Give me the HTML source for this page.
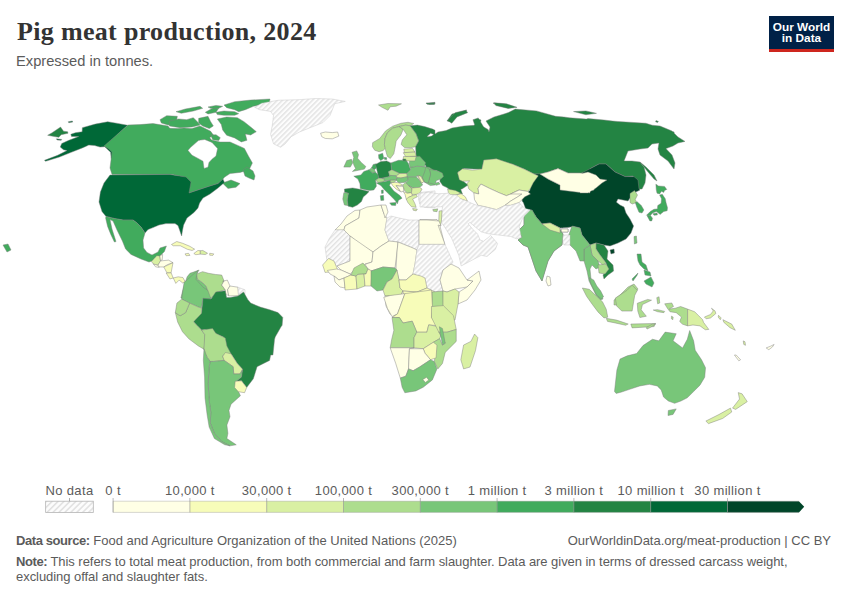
<!DOCTYPE html>
<html><head><meta charset="utf-8">
<style>
html,body{margin:0;padding:0;background:#fff;width:850px;height:600px;overflow:hidden;position:relative;font-family:"Liberation Sans",sans-serif;}
.t{position:absolute;white-space:nowrap;}
#title{left:17px;top:17px;font-family:"Liberation Serif",serif;font-weight:bold;font-size:26px;color:#333;letter-spacing:0.33px;}
#sub{left:16px;top:52.5px;font-size:14.7px;color:#5b5b5b;}
#logo{position:absolute;left:769px;top:16px;width:65px;height:36px;background:#002147;}
#logo .bar{position:absolute;left:0;bottom:0;width:65px;height:3px;background:#ce261e;}
#logo .txt{position:absolute;left:0;top:5.6px;width:65px;text-align:center;color:#fff;font-size:11.8px;line-height:11.6px;font-weight:bold;letter-spacing:0px;}
.foot{font-size:13px;color:#5b5b5b;}
.foot b{color:#5b5b5b;letter-spacing:-0.42px;}
.leg{font-size:13px;color:#5b5b5b;letter-spacing:0.35px;transform:translateX(-50%);}
</style></head><body>
<div id="title" class="t">Pig meat production, 2024</div>
<div id="sub" class="t">Expressed in tonnes.</div>
<div id="logo"><div class="txt">Our World<br>in Data</div><div class="bar"></div></div>

<svg id="map" width="850" height="600" style="position:absolute;left:0;top:0">
<defs>
<pattern id="hatch" patternUnits="userSpaceOnUse" width="3.55" height="3.55" patternTransform="rotate(45)">
<rect width="3.55" height="3.55" fill="#fcfcfc"/><rect width="1.45" height="3.55" fill="#e3e3e3"/>
</pattern>
<pattern id="hatchL" patternUnits="userSpaceOnUse" width="4.2" height="4.2" patternTransform="rotate(45)">
<rect width="4.2" height="4.2" fill="#fcfcfc"/><rect width="1.5" height="4.2" fill="#e0e0e0"/>
</pattern>
</defs>
<g id="mapg" stroke="#7d7d7d" stroke-width="0.45" fill-rule="evenodd" stroke-linejoin="round"><path d="M127.65,125.29 L116.47,123.18 L107.65,121.76 L95.29,124.12 L82.35,127.65 L82.12,131.76 L75.29,132.71 L70.82,134.35 L71.53,136.47 L78.82,136.47 L68.24,140.59 L61.76,143.53 L60.24,147.06 L63.53,149.76 L67.06,150.59 L57.65,155.29 L44.47,160.35 L45.65,161.29 L59.41,157.06 L70.59,152.59 L76.47,150.24 L82.94,147.65 L88.82,145.06 L94.71,145.53 L100.00,147.06 L104.71,146.71 L107.65,149.41 L110.59,152.35 L111.18,158.47 L113.88,158.24 L113.18,150.00 L110.59,147.88 L104.94,146.24Z" fill="#006837"/>
<path d="M68.24,121.76 L72.35,120.94 L72.71,122.12 L68.82,122.71Z" fill="#006837"/>
<path d="M56.47,138.82 L61.76,139.41 L61.18,140.35 L57.06,140.00Z" fill="#006837"/>
<path d="M47.65,135.29 L51.76,132.94 L60.59,127.06 L63.53,131.18 L67.65,131.76 L68.00,133.29 L61.18,134.71 L58.82,137.29 L54.12,136.47Z" fill="#238443"/>
<path d="M104.00,146.00 L104.00,146.00 L108.99,149.00 L109.00,149.00 L109.00,149.00 L111.98,151.98 L111.99,151.99 L111.99,151.99 L111.99,151.99 L111.99,152.00 L112.00,152.00 L112.00,152.01 L112.00,152.01 L112.00,152.02 L112.00,152.02 L110.00,168.00 L110.00,168.00 L110.00,168.00 L112.00,174.40 L112.00,174.40 L112.00,174.40 L171.99,174.40 L172.00,174.40 L172.01,174.40 L183.98,177.00 L183.99,177.00 L183.99,177.00 L184.00,177.00 L184.00,177.00 L184.01,177.01 L184.01,177.01 L188.99,182.39 L188.99,182.39 L188.99,182.39 L188.99,182.40 L189.00,182.40 L189.00,182.41 L189.00,182.41 L189.00,182.41 L189.00,182.42 L189.00,193.00 L189.00,193.00 L189.00,193.00 L210.00,186.00 L210.00,186.00 L218.00,183.60 L218.00,183.60 L218.00,183.60 L223.00,179.00 L223.00,179.00 L223.00,179.00 L224.39,177.21 L224.40,177.20 L224.40,177.20 L224.41,177.20 L229.99,173.61 L229.99,173.60 L230.00,173.60 L230.00,173.60 L230.01,173.60 L230.01,173.60 L240.00,172.40 L240.00,172.40 L249.00,170.00 L249.00,170.00 L249.00,170.00 L252.40,163.00 L252.40,163.00 L252.40,163.00 L248.40,156.00 L248.40,156.00 L244.40,148.40 L244.40,148.40 L244.40,148.40 L240.00,146.40 L240.00,146.40 L230.00,142.00 L230.00,142.00 L230.00,142.00 L220.01,142.00 L220.00,142.00 L219.99,142.00 L211.62,140.00 L211.61,140.00 L211.61,140.00 L211.60,140.00 L211.60,140.00 L211.59,139.99 L211.59,139.99 L209.66,137.82 L209.66,137.82 L209.66,137.81 L209.65,137.81 L209.65,137.80 L209.65,137.80 L209.65,137.79 L209.65,137.79 L209.65,137.78 L209.65,137.78 L209.65,137.78 L209.65,137.77 L209.65,137.77 L209.66,137.76 L209.66,137.76 L209.66,137.75 L209.67,137.75 L209.67,137.75 L213.33,135.00 L213.33,135.00 L213.33,135.00 L210.67,131.27 L210.67,131.27 L210.67,131.27 L200.00,125.93 L200.00,125.93 L200.00,125.93 L192.01,128.60 L192.00,128.60 L192.00,128.60 L191.99,128.60 L190.00,128.60 L190.00,128.60 L184.00,128.00 L184.00,128.00 L184.00,128.00 L177.97,128.53 L177.96,128.53 L169.80,128.37 L169.80,128.37 L169.79,128.37 L169.79,128.37 L169.78,128.36 L169.78,128.36 L169.77,128.36 L169.77,128.36 L169.77,128.35 L169.76,128.35 L168.00,126.00 L168.00,126.00 L168.00,126.00 L153.00,123.60 L153.00,123.60 L153.00,123.60 L140.00,124.60 L140.00,124.60 L128.00,125.00 L128.00,125.00 L128.00,125.00 L104.00,146.00ZM198.34,140.62 L198.34,140.62 L198.35,140.62 L198.35,140.61 L198.35,140.61 L198.36,140.61 L200.53,140.07 L200.54,140.07 L204.67,139.48 L204.68,139.48 L204.68,139.48 L204.69,139.48 L204.69,139.48 L204.70,139.48 L211.99,142.40 L211.99,142.40 L212.00,142.40 L212.00,142.40 L212.01,142.41 L217.58,148.38 L217.59,148.38 L217.59,148.39 L217.59,148.39 L217.59,148.40 L217.59,148.40 L217.59,148.41 L217.60,148.41 L217.60,148.42 L217.60,148.42 L217.59,148.43 L216.00,155.98 L216.00,155.99 L216.00,155.99 L216.00,156.00 L216.00,156.00 L215.99,156.00 L215.99,156.01 L215.99,156.01 L212.00,159.20 L212.00,159.20 L209.00,162.40 L209.00,162.40 L209.00,162.40 L208.01,167.17 L208.00,167.18 L208.00,167.18 L208.00,167.18 L208.00,167.19 L208.00,167.19 L207.99,167.20 L207.99,167.20 L207.98,167.20 L207.98,167.20 L207.98,167.21 L207.97,167.21 L204.06,168.38 L204.05,168.38 L204.05,168.39 L204.04,168.39 L204.04,168.39 L204.03,168.38 L204.03,168.38 L204.02,168.38 L204.02,168.38 L204.01,168.38 L204.01,168.37 L204.01,168.37 L204.00,168.37 L204.00,168.36 L204.00,168.36 L204.00,168.36 L203.99,168.35 L203.99,168.35 L203.99,168.34 L203.00,161.20 L203.00,161.20 L203.00,161.20 L198.00,158.40 L198.00,158.40 L192.01,155.20 L192.00,155.20 L192.00,155.20 L192.00,155.20 L191.99,155.19 L188.03,150.43 L188.02,150.43 L188.02,150.42 L188.02,150.42 L188.02,150.42 L188.02,150.41 L188.02,150.41 L188.02,150.40 L188.02,150.40 L188.02,150.39 L188.02,150.39 L188.02,150.38 L188.02,150.38 L188.02,150.37 L188.03,150.37 L190.66,147.34 L190.67,147.33Z" fill="#41ab5d"/>
<path d="M243.00,170.00 L247.00,167.00 L253.00,171.00 L255.00,176.00 L254.00,180.00 L249.00,178.00 L245.00,176.00Z" fill="#41ab5d"/>
<path d="M222.40,183.00 L231.00,180.00 L240.00,183.60 L236.00,187.20 L228.00,188.40Z" fill="#41ab5d"/>
<path d="M224.00,105.00 L234.67,101.67 L250.67,100.07 L270.00,99.00 L269.33,102.33 L253.33,106.33 L245.33,109.67 L238.67,111.67 L234.67,109.67 L226.67,107.67Z" fill="#41ab5d"/>
<path d="M216.00,112.33 L224.00,111.00 L234.67,111.67 L238.67,113.67 L234.67,115.27 L224.00,115.27 L217.33,114.60Z" fill="#41ab5d"/>
<path d="M176.00,111.67 L185.33,109.00 L200.00,106.33 L202.67,108.33 L193.33,111.00 L181.33,113.27Z" fill="#41ab5d"/>
<path d="M205.33,112.33 L213.33,107.67 L218.67,108.33 L216.00,112.33 L208.00,113.93Z" fill="#41ab5d"/>
<path d="M208.00,107.00 L216.00,105.40 L222.67,106.33 L218.67,108.33 L210.67,108.33Z" fill="#41ab5d"/>
<path d="M160.00,119.67 L166.67,115.67 L177.33,116.33 L176.00,123.67 L168.00,125.00 L161.33,123.00Z" fill="#41ab5d"/>
<path d="M169.33,121.00 L178.67,119.00 L186.67,119.67 L193.33,117.67 L197.33,121.67 L200.00,125.00 L192.00,127.00 L180.00,127.67 L169.33,125.93Z" fill="#41ab5d"/>
<path d="M198.67,118.33 L208.00,116.33 L210.67,121.67 L213.33,125.93 L209.33,128.60 L202.67,125.93 L198.67,123.00Z" fill="#41ab5d"/>
<path d="M217.33,119.00 L226.67,117.00 L237.33,117.67 L244.00,121.67 L250.67,127.00 L256.27,131.67 L250.67,135.00 L245.33,133.93 L246.93,140.33 L241.33,141.93 L234.67,137.93 L226.67,135.27 L222.67,129.93 L221.33,124.60Z" fill="#41ab5d"/>
<path d="M210.67,135.00 L216.00,134.73 L220.27,137.67 L218.67,140.60 L212.67,139.67Z" fill="#41ab5d"/>
<path d="M110.00,175.00 L170.00,174.40 L186.00,177.00 L191.00,182.00 L189.00,193.00 L198.00,190.00 L210.00,186.00 L218.00,183.60 L223.00,179.00 L224.40,182.40 L218.00,188.00 L210.00,194.00 L203.00,198.00 L199.60,203.00 L198.00,208.00 L194.00,212.40 L187.00,218.00 L183.60,225.00 L182.40,231.00 L181.60,236.00 L179.60,230.00 L178.00,225.60 L175.00,223.60 L166.00,223.60 L159.00,225.00 L153.00,227.60 L148.00,229.60 L145.00,233.00 L141.00,227.00 L137.00,223.00 L133.00,220.00 L123.00,220.00 L114.00,218.40 L106.00,216.40 L102.00,211.60 L99.00,202.00 L100.40,192.00 L104.00,183.00Z" fill="#006837"/>
<path d="M106.00,216.40 L114.00,218.40 L123.00,220.00 L133.00,220.00 L137.00,223.00 L141.00,227.00 L145.00,233.00 L143.00,240.00 L143.60,248.00 L147.00,252.40 L152.00,255.00 L158.00,252.00 L160.00,248.00 L166.40,246.00 L164.40,251.60 L159.00,257.00 L155.00,258.00 L152.00,261.00 L149.00,262.00 L141.00,259.00 L131.00,254.40 L125.60,249.00 L122.40,241.00 L117.00,230.00 L113.00,221.00 L110.00,219.60 L112.00,229.00 L116.00,241.60 L114.40,242.00 L110.80,234.40 L107.60,226.40 L105.60,218.00Z" fill="#41ab5d"/>
<path d="M151.47,261.53 L156.76,255.65 L159.82,255.88 L160.53,260.94 L157.94,265.29 L153.47,264.12Z" fill="#d9f0a3"/>
<path d="M159.82,255.65 L162.65,254.47 L162.18,259.88 L160.53,260.59Z" fill="#ffffe5"/>
<path d="M157.94,265.29 L160.53,260.94 L168.53,260.12 L173.00,262.71 L167.59,264.59 L163.82,266.94 L159.12,266.94Z" fill="#ffffe5"/>
<path d="M153.47,264.12 L157.94,265.29 L159.12,267.41 L155.59,266.82Z" fill="#ffffe5"/>
<path d="M163.82,266.94 L173.00,262.71 L171.12,272.82 L166.88,272.82Z" fill="#f7fcb9"/>
<path d="M166.18,273.06 L171.12,272.82 L173.24,278.00 L169.94,278.94Z" fill="#f7fcb9"/>
<path d="M173.24,278.00 L178.18,276.82 L182.88,277.53 L185.24,281.76 L182.65,282.94 L179.12,280.12 L175.82,283.41Z" fill="#f7fcb9"/>
<path d="M171.47,244.47 L176.76,241.53 L182.65,243.29 L189.71,246.24 L194.65,249.18 L192.06,250.47 L187.35,249.29 L180.29,245.76 L173.24,245.76Z" fill="#f7fcb9"/>
<path d="M185.00,253.88 L188.53,253.29 L189.94,255.41 L186.18,255.76Z" fill="#f7fcb9"/>
<path d="M193.82,253.53 L197.94,250.47 L200.29,250.71 L200.29,254.12 L195.82,254.71Z" fill="#f7fcb9"/>
<path d="M200.29,250.71 L202.88,250.47 L207.59,253.29 L205.24,254.59 L200.29,254.12Z" fill="#d9f0a3"/>
<path d="M209.71,253.29 L213.82,253.88 L212.76,255.41 L209.71,255.18Z" fill="#f7fcb9"/>
<path d="M180.88,298.00 L182.88,289.76 L185.24,282.71 L187.12,276.82 L189.94,273.29 L193.47,272.12 L199.12,270.00 L196.53,274.00 L197.47,279.18 L202.65,282.71 L206.18,286.24 L207.59,290.35 L207.35,298.00Z" fill="#78c679"/>
<path d="M196.53,274.00 L202.65,271.65 L208.53,273.29 L215.59,274.47 L221.71,275.06 L224.06,280.94 L221.71,285.06 L225.24,289.76 L217.00,292.35 L211.12,298.00 L207.35,298.00 L207.59,290.35 L206.18,286.24 L202.65,282.71 L197.47,279.18Z" fill="#addd8e"/>
<path d="M222.65,281.29 L227.35,280.12 L229.94,286.00 L227.59,289.76 L228.76,295.88 L225.24,293.29 L225.24,289.76 L221.71,285.06 L224.06,280.94Z" fill="#ffffe5"/>
<path d="M229.94,286.00 L237.94,287.18 L238.53,295.65 L228.76,295.88 L227.59,289.76Z" fill="#ffffe5"/>
<path d="M237.94,287.18 L245.00,289.76 L245.00,293.88 L238.53,295.65Z" fill="url(#hatch)" stroke="#c4c4c4"/>
<path d="M184.05,282.46 L197.54,270.56 L195.95,279.29 L203.10,287.22 L207.86,290.40 L211.03,299.13 L203.10,298.33 L201.51,307.86 L198.33,307.06 L189.60,303.10 L181.67,299.13Z" fill="#78c679"/>
<path d="M193.57,321.83 L193.57,321.83 L196.54,324.92 L196.55,324.92 L196.55,324.92 L196.55,324.93 L196.55,324.93 L196.55,324.94 L196.56,324.94 L196.56,324.95 L196.56,324.95 L196.56,324.96 L196.56,324.96 L196.55,324.97 L196.55,324.97 L196.55,324.97 L196.55,324.98 L196.54,324.98 L196.54,324.99 L196.54,324.99 L196.53,324.99 L196.53,324.99 L196.53,325.00 L196.52,325.00 L196.52,325.00 L196.51,325.00 L196.51,325.00 L195.63,325.00 L195.63,325.00 L195.63,325.00 L197.50,325.92 L197.51,325.92 L197.51,325.92 L197.51,325.92 L197.52,325.93 L201.51,330.08 L201.51,330.08 L201.51,330.08 L204.98,329.58 L204.99,329.58 L204.99,329.58 L205.00,329.58 L205.00,329.58 L205.01,329.59 L222.26,336.49 L222.26,336.49 L223.74,337.23 L223.75,337.23 L223.75,337.23 L223.75,337.24 L223.76,337.24 L223.76,337.24 L223.76,337.25 L223.77,337.25 L223.77,337.26 L223.77,337.26 L223.77,337.27 L225.42,352.50 L225.42,352.50 L225.42,352.50 L230.98,353.74 L230.99,353.74 L230.99,353.74 L231.00,353.74 L231.00,353.74 L231.00,353.75 L231.01,353.75 L231.01,353.75 L231.01,353.76 L231.02,353.76 L231.67,355.00 L231.67,355.00 L231.67,355.00 L231.81,355.00 L231.82,355.00 L231.82,355.00 L231.83,355.00 L231.83,355.00 L231.84,355.01 L231.84,355.01 L231.84,355.01 L231.85,355.02 L231.85,355.02 L231.85,355.02 L237.29,363.54 L237.29,363.54 L237.29,363.54 L242.48,369.15 L242.49,369.15 L242.49,369.16 L242.49,369.16 L242.49,369.17 L242.50,369.17 L242.50,369.18 L242.50,369.18 L242.50,369.19 L242.50,369.19 L241.46,377.06 L241.46,377.07 L241.46,377.07 L241.46,377.08 L241.45,377.08 L241.45,377.09 L241.45,377.09 L241.45,377.09 L241.44,377.10 L236.25,381.25 L236.25,381.25 L236.25,381.25 L241.43,380.84 L241.44,380.84 L241.44,380.84 L241.45,380.84 L241.45,380.84 L241.46,380.84 L241.46,380.84 L241.46,380.84 L241.47,380.85 L241.47,380.85 L241.47,380.85 L246.67,387.50 L246.67,387.50 L246.67,387.50 L253.33,378.75 L253.33,378.75 L253.33,378.75 L257.08,366.69 L257.08,366.68 L257.08,366.68 L257.08,366.67 L257.09,366.67 L257.09,366.67 L257.09,366.66 L257.10,366.66 L257.10,366.66 L269.58,360.42 L269.58,360.42 L269.58,360.42 L270.66,355.04 L270.66,355.04 L270.66,355.03 L270.66,355.03 L270.67,355.02 L270.67,355.02 L270.67,355.01 L270.68,355.01 L270.68,355.01 L270.68,355.01 L270.69,355.00 L270.69,355.00 L270.70,355.00 L270.70,355.00 L270.71,355.00 L272.94,355.00 L272.94,355.00 L272.94,355.00 L274.52,339.61 L274.52,339.60 L274.52,339.60 L275.19,337.06 L275.19,337.06 L275.20,337.05 L275.20,337.05 L281.04,326.83 L281.04,326.83 L282.14,325.32 L282.14,325.32 L282.14,325.32 L282.78,317.38 L282.78,317.38 L282.78,317.38 L278.02,312.62 L278.02,312.62 L278.01,312.62 L269.76,309.76 L269.76,309.76 L260.24,307.06 L260.24,307.06 L250.73,303.10 L250.72,303.10 L250.72,303.10 L250.71,303.09 L250.71,303.09 L250.71,303.09 L247.54,299.13 L247.54,299.13 L247.54,299.12 L243.57,291.99 L243.57,291.98 L243.57,291.98 L238.02,295.95 L238.02,295.95 L238.02,295.95 L238.01,295.95 L238.01,295.95 L230.08,297.54 L230.08,297.54 L230.07,297.54 L226.63,297.54 L226.62,297.54 L226.62,297.54 L226.61,297.54 L226.61,297.54 L226.61,297.53 L226.60,297.53 L226.60,297.53 L226.59,297.52 L226.59,297.52 L226.59,297.52 L226.58,297.51 L226.58,297.51 L226.58,297.50 L226.58,297.50 L225.32,290.72 L225.32,290.71 L225.32,290.71 L215.79,291.98 L215.79,291.98 L215.79,291.99 L211.05,299.10 L211.05,299.11 L211.04,299.11 L211.04,299.11 L211.03,299.12 L211.03,299.12 L211.03,299.12 L211.02,299.12 L211.02,299.12 L211.01,299.12 L211.01,299.12 L211.00,299.12 L203.10,298.33 L203.10,298.33 L203.10,298.33 L201.51,312.59 L201.51,312.60 L201.51,312.60 L201.51,312.61 L201.50,312.61 L201.50,312.62 L201.50,312.62 L201.50,312.62 L201.49,312.63 L201.49,312.63 L201.48,312.63 L196.75,315.00 L196.75,315.00 L196.75,315.00 L193.57,321.82Z" fill="#238443"/>
<path d="M175.32,312.62 L180.08,315.79 L185.63,312.62 L189.60,303.10 L198.33,307.06 L201.83,308.17 L201.51,313.41 L193.57,321.83 L201.51,330.08 L205.00,334.84 L204.68,344.37 L203.89,349.13 L198.33,345.95 L188.81,338.81 L182.46,331.67 L177.70,322.14Z" fill="#addd8e"/>
<path d="M181.67,299.13 L189.60,303.10 L185.63,312.62 L180.08,315.79 L175.32,312.62 L176.90,303.10Z" fill="#addd8e"/>
<path d="M201.51,330.08 L201.51,330.08 L204.73,334.47 L204.73,334.47 L204.73,334.48 L204.73,334.48 L204.73,334.49 L204.74,334.49 L204.74,334.50 L204.74,334.50 L203.96,348.96 L203.96,348.96 L203.96,348.96 L204.74,351.05 L204.74,351.05 L204.74,351.06 L204.74,351.06 L204.74,351.06 L204.68,355.00 L204.68,355.00 L204.68,355.00 L206.19,355.00 L206.19,355.00 L206.20,355.00 L206.20,355.00 L206.21,355.00 L206.21,355.01 L206.22,355.01 L206.22,355.01 L206.23,355.02 L206.23,355.02 L206.23,355.02 L206.23,355.03 L206.24,355.03 L207.08,357.29 L207.08,357.29 L207.08,357.29 L210.21,361.46 L210.21,361.46 L210.21,361.46 L213.33,361.46 L213.33,361.46 L224.17,360.42 L224.17,360.42 L224.17,360.42 L222.72,356.27 L222.72,356.27 L222.71,356.27 L222.71,356.26 L222.71,356.26 L222.71,356.25 L222.72,356.25 L222.72,356.24 L222.72,356.24 L222.72,356.23 L222.72,356.23 L223.60,355.02 L223.60,355.02 L223.60,355.01 L223.61,355.01 L223.61,355.01 L223.61,355.01 L223.62,355.00 L223.62,355.00 L223.63,355.00 L223.63,355.00 L223.64,355.00 L231.67,355.00 L231.67,355.00 L231.67,355.00 L226.91,345.96 L226.91,345.95 L226.90,345.95 L226.90,345.95 L225.32,338.02 L225.32,338.02 L225.32,338.02 L223.79,337.25 L223.79,337.25 L223.78,337.25 L223.78,337.24 L223.78,337.24 L223.77,337.24 L223.77,337.23 L223.77,337.23 L223.77,337.22 L223.76,337.22 L223.76,337.21 L223.75,337.08 L223.75,337.08 L223.75,337.08 L222.26,336.49 L222.26,336.49 L215.81,333.26 L215.80,333.26 L215.80,333.25 L215.79,333.25 L215.79,333.25 L215.79,333.24 L212.62,328.49 L212.62,328.49 L212.62,328.49 L201.51,330.08Z" fill="#addd8e"/>
<path d="M222.71,356.25 L225.42,352.50 L231.04,353.75 L237.29,363.54 L242.50,369.17 L240.00,373.96 L233.75,373.96 L233.12,366.67 L224.17,360.42Z" fill="#d9f0a3"/>
<path d="M210.21,361.46 L213.33,361.46 L224.17,360.42 L233.12,366.67 L233.75,373.96 L240.00,373.96 L242.50,369.79 L241.46,377.08 L236.25,381.25 L236.67,387.50 L240.42,395.83 L231.04,404.17 L228.96,410.42 L230.00,416.67 L226.88,425.00 L227.92,433.33 L226.88,438.54 L236.25,444.79 L230.00,445.83 L221.67,441.67 L214.38,433.33 L210.21,422.92 L210.83,412.50 L209.17,400.00 L208.12,383.33 L209.17,366.67Z" fill="#78c679"/>
<path d="M203.96,348.96 L207.08,357.29 L210.21,361.46 L209.17,366.67 L208.12,383.33 L209.17,400.00 L210.83,412.50 L210.21,422.92 L214.38,433.33 L221.67,441.67 L230.00,445.83 L224.79,444.79 L214.38,438.54 L209.17,427.08 L207.08,414.58 L205.00,397.92 L204.58,377.08 L203.33,360.42Z" fill="#78c679"/>
<path d="M235.21,381.25 L241.46,380.83 L246.67,387.50 L244.58,392.71 L238.33,391.67 L234.58,387.50Z" fill="#f7fcb9"/>
<path d="M254.71,107.29 L261.76,103.18 L278.24,100.24 L299.41,99.65 L315.88,98.47 L332.35,99.06 L345.29,101.41 L334.71,103.76 L332.35,109.65 L330.00,115.53 L322.94,122.59 L311.18,127.29 L299.41,132.00 L291.18,136.71 L285.29,143.76 L280.59,147.29 L273.53,143.76 L270.59,134.35 L272.35,124.94 L273.53,115.53 L270.59,111.41 L259.41,109.65Z" fill="url(#hatch)" stroke="#c4c4c4"/>
<path d="M320.59,133.18 L325.29,132.00 L332.35,132.59 L337.65,132.00 L338.82,136.12 L332.35,138.82 L325.29,138.47 L321.76,136.71Z" fill="#ffffe5"/>
<path d="M378.53,105.00 L387.94,103.47 L401.47,103.82 L396.18,106.18 L390.29,106.76 L387.94,110.29 L382.06,107.35Z" fill="#addd8e"/>
<path d="M372.41,146.76 L372.65,142.65 L379.71,138.53 L385.59,130.88 L392.65,126.18 L400.88,123.24 L407.94,122.29 L413.82,123.47 L410.29,125.82 L405.59,125.12 L399.12,126.53 L392.65,128.18 L387.35,132.88 L385.00,138.53 L384.41,144.41 L385.59,147.94 L383.24,150.53 L379.12,151.71 L374.76,150.29Z" fill="#addd8e"/>
<path d="M387.35,132.88 L392.65,128.18 L399.12,126.53 L403.24,129.35 L400.88,135.00 L396.18,141.12 L395.24,146.76 L393.82,153.82 L390.29,158.53 L387.35,156.41 L385.59,150.29 L384.41,144.41 L385.00,138.53Z" fill="#addd8e"/>
<path d="M399.12,126.53 L405.59,125.12 L410.29,125.82 L412.88,129.35 L416.18,133.82 L418.76,140.88 L415.59,146.76 L410.29,147.71 L404.41,147.47 L401.12,144.41 L402.29,139.94 L406.76,134.76 L403.24,129.35Z" fill="#addd8e"/>
<path d="M410.29,125.82 L410.29,125.82 L412.88,129.35 L416.17,133.82 L416.17,133.82 L416.18,133.83 L416.18,133.83 L418.76,140.86 L418.76,140.87 L418.76,140.87 L418.76,140.87 L418.76,140.88 L418.76,140.88 L418.76,140.89 L418.76,140.89 L418.76,140.90 L418.75,140.90 L415.59,146.76 L415.59,146.76 L415.59,146.77 L416.18,156.76 L416.18,156.76 L416.18,156.77 L420.87,159.11 L420.87,159.11 L420.88,159.12 L420.88,159.12 L420.88,159.12 L420.89,159.13 L420.89,159.13 L424.41,165.00 L424.41,165.00 L424.41,165.00 L425.53,165.00 L425.53,165.00 L425.54,165.00 L425.54,165.00 L425.55,165.00 L425.55,165.01 L425.55,165.01 L425.56,165.01 L425.56,165.02 L425.57,165.02 L425.57,165.02 L425.57,165.03 L425.57,165.03 L425.57,165.04 L425.58,165.04 L425.88,166.82 L425.88,166.82 L425.88,166.82 L429.41,169.41 L429.41,169.41 L429.41,169.41 L436.47,170.59 L436.47,170.59 L436.48,170.59 L438.75,171.50 L438.75,171.50 L438.75,171.50 L440.99,172.99 L440.99,172.99 L440.99,173.00 L441.00,173.00 L441.00,173.00 L441.00,173.01 L441.00,173.01 L441.01,173.02 L441.13,173.43 L441.13,173.43 L441.13,173.44 L441.13,173.44 L441.13,173.45 L441.13,173.45 L439.83,181.25 L439.83,181.25 L439.83,181.25 L442.66,185.49 L442.66,185.50 L442.66,185.50 L446.91,187.62 L446.91,187.62 L446.92,187.62 L450.45,190.45 L450.45,190.45 L450.45,190.45 L456.83,193.29 L456.83,193.29 L456.83,193.29 L462.49,193.99 L462.49,193.99 L462.49,193.99 L460.70,189.22 L460.70,189.22 L460.70,189.21 L460.70,189.21 L460.70,189.20 L460.70,189.20 L460.70,189.19 L460.70,189.19 L460.71,189.19 L460.71,189.18 L460.71,189.18 L460.71,189.17 L460.72,189.17 L460.72,189.17 L460.73,189.16 L460.73,189.16 L460.73,189.16 L460.74,189.16 L460.74,189.16 L462.00,189.00 L462.00,189.00 L462.00,189.00 L468.00,185.00 L468.00,185.00 L468.00,185.00 L461.42,179.73 L461.41,179.73 L461.41,179.73 L461.41,179.72 L461.40,179.72 L461.40,179.72 L461.40,179.71 L461.40,179.71 L461.08,178.41 L461.08,178.41 L461.08,178.41 L458.01,173.50 L458.01,173.50 L458.00,173.50 L458.00,173.49 L458.00,173.49 L458.00,173.48 L458.00,173.48 L458.00,172.03 L458.00,172.02 L458.00,172.02 L458.00,172.01 L458.00,172.01 L458.01,172.01 L458.01,172.00 L458.01,172.00 L458.01,171.99 L458.02,171.99 L458.02,171.99 L458.03,171.99 L463.99,168.61 L463.99,168.60 L464.00,168.60 L464.00,168.60 L464.01,168.60 L464.01,168.60 L464.01,168.60 L474.00,169.00 L474.00,169.00 L482.00,169.00 L482.00,169.00 L482.00,169.00 L483.99,161.03 L483.99,161.03 L484.00,161.02 L484.00,161.02 L484.00,161.01 L484.00,161.01 L484.01,161.01 L484.01,161.00 L484.01,161.00 L484.02,161.00 L484.02,161.00 L484.03,161.00 L484.03,160.99 L495.98,159.00 L495.99,159.00 L495.99,159.00 L496.00,159.00 L496.00,159.00 L496.01,159.01 L496.01,159.01 L504.00,163.00 L504.00,163.00 L504.00,163.00 L511.99,164.00 L512.00,164.00 L512.00,164.00 L512.01,164.00 L524.00,169.00 L524.00,169.00 L534.00,174.00 L534.00,174.00 L534.00,174.00 L540.00,174.00 L540.00,174.00 L540.00,174.00 L548.00,172.00 L548.00,172.00 L557.98,168.61 L557.99,168.60 L557.99,168.60 L558.00,168.60 L558.00,168.60 L558.00,168.60 L558.01,168.60 L558.01,168.61 L558.02,168.61 L568.00,173.00 L568.00,173.00 L568.00,173.00 L579.95,173.00 L579.95,173.00 L579.96,173.00 L579.96,173.00 L579.97,173.00 L579.97,173.01 L579.98,173.01 L579.98,173.01 L579.99,173.01 L579.99,173.02 L579.99,173.02 L579.99,173.03 L580.00,173.03 L580.00,173.04 L580.00,173.04 L580.00,173.05 L580.00,173.05 L580.00,174.00 L580.00,174.00 L580.00,174.00 L582.34,172.77 L582.34,172.77 L582.35,172.77 L582.35,172.77 L582.36,172.76 L590.00,172.00 L590.00,172.00 L590.00,172.00 L590.00,168.77 L590.00,168.76 L590.00,168.76 L590.00,168.75 L590.00,168.75 L590.01,168.74 L590.01,168.74 L590.01,168.74 L590.01,168.73 L590.02,168.73 L590.02,168.73 L590.03,168.72 L598.99,164.01 L598.99,164.00 L599.00,164.00 L599.00,164.00 L599.01,164.00 L599.01,164.00 L605.98,164.00 L605.99,164.00 L605.99,164.00 L606.00,164.00 L606.00,164.00 L606.01,164.01 L606.01,164.01 L606.01,164.01 L615.00,172.00 L615.00,172.00 L615.00,172.00 L625.00,176.60 L625.00,176.60 L625.00,176.60 L632.97,176.00 L632.98,176.00 L632.98,176.00 L632.99,176.00 L632.99,176.00 L633.00,176.01 L633.00,176.01 L633.01,176.01 L633.01,176.01 L633.01,176.02 L633.02,176.02 L636.99,180.99 L636.99,180.99 L637.00,181.00 L637.00,181.00 L637.00,181.01 L637.00,181.01 L637.00,181.01 L638.00,189.00 L638.00,189.00 L638.00,189.00 L642.00,189.00 L642.00,189.00 L642.00,189.00 L645.00,183.00 L645.00,183.00 L645.00,183.00 L646.00,175.00 L646.00,175.00 L646.00,175.00 L644.00,167.00 L644.00,167.00 L644.00,167.00 L640.00,162.00 L640.00,162.00 L640.00,162.00 L632.00,161.00 L632.00,161.00 L624.07,161.00 L624.07,161.00 L624.06,161.00 L624.06,161.00 L624.05,161.00 L624.05,160.99 L624.05,160.99 L624.04,160.99 L624.04,160.99 L624.04,160.98 L624.03,160.98 L624.03,160.97 L624.03,160.97 L624.03,160.96 L624.02,160.96 L624.02,160.96 L624.02,160.95 L624.02,160.95 L624.02,160.94 L624.03,160.94 L624.03,160.93 L627.99,151.03 L627.99,151.02 L627.99,151.02 L628.00,151.01 L628.00,151.01 L628.00,151.01 L628.01,151.00 L628.01,151.00 L628.02,151.00 L628.02,151.00 L628.03,151.00 L640.00,149.00 L640.00,149.00 L648.00,148.00 L648.00,148.00 L648.00,148.00 L651.99,144.01 L651.99,144.01 L652.00,144.01 L652.00,144.00 L652.00,144.00 L652.01,144.00 L652.01,144.00 L652.02,144.00 L658.93,143.01 L658.94,143.01 L658.94,143.01 L658.95,143.01 L658.95,143.01 L658.96,143.01 L658.96,143.01 L658.97,143.02 L658.97,143.02 L658.97,143.02 L658.98,143.03 L658.98,143.03 L658.98,143.03 L658.98,143.04 L658.99,143.04 L658.99,143.05 L658.99,143.05 L658.99,143.06 L658.99,143.06 L658.99,143.07 L658.00,149.00 L658.00,149.00 L658.00,149.00 L660.00,155.00 L660.00,155.00 L660.00,155.00 L667.99,161.00 L668.00,161.00 L668.00,161.00 L668.00,161.01 L674.00,169.00 L674.00,169.00 L674.00,169.00 L675.00,163.00 L675.00,163.00 L675.00,163.00 L672.00,155.00 L672.00,155.00 L672.00,155.00 L666.05,148.65 L666.05,148.65 L666.05,148.65 L666.04,148.64 L666.04,148.64 L666.04,148.63 L666.04,148.63 L666.04,148.62 L666.04,148.62 L666.04,148.61 L666.04,148.61 L666.04,148.60 L666.04,148.60 L666.04,148.60 L666.05,148.59 L666.05,148.59 L666.05,148.58 L666.06,148.58 L666.06,148.58 L666.07,148.58 L666.07,148.57 L673.00,146.00 L673.00,146.00 L673.00,146.00 L677.99,143.00 L678.00,143.00 L678.00,143.00 L678.01,143.00 L685.00,141.40 L685.00,141.40 L685.00,141.40 L678.00,137.00 L678.00,137.00 L678.00,137.00 L674.14,133.14 L674.13,133.13 L674.13,133.13 L674.13,133.12 L674.12,133.12 L674.12,133.11 L674.12,133.11 L674.12,133.10 L674.12,133.10 L674.12,132.06 L674.12,132.06 L674.12,132.06 L672.59,131.58 L672.58,131.58 L672.58,131.58 L672.58,131.57 L672.57,131.57 L672.57,131.57 L672.00,131.00 L672.00,131.00 L672.00,131.00 L660.00,126.00 L660.00,126.00 L660.00,126.00 L652.26,125.23 L652.25,125.22 L652.25,125.22 L645.89,123.24 L645.88,123.24 L645.88,123.24 L617.65,121.47 L617.65,121.47 L612.67,121.08 L612.67,121.08 L604.00,120.00 L604.00,120.00 L588.00,118.60 L588.00,118.60 L588.00,118.60 L586.51,119.05 L586.51,119.05 L586.50,119.05 L586.50,119.05 L586.50,119.05 L585.88,119.00 L569.29,117.76 L569.29,117.76 L564.00,117.00 L564.00,117.00 L555.59,116.30 L555.59,116.30 L555.58,116.30 L536.47,110.88 L536.47,110.88 L536.47,110.88 L515.30,109.12 L515.30,109.12 L515.29,109.12 L508.47,112.53 L508.46,112.53 L504.00,114.00 L504.00,114.00 L494.00,117.00 L494.00,117.00 L494.00,117.00 L486.00,121.00 L486.00,121.00 L486.00,121.00 L489.99,126.98 L489.99,126.99 L489.99,126.99 L489.99,127.00 L490.00,127.00 L490.00,127.01 L490.00,127.01 L490.00,127.02 L490.00,127.02 L489.03,131.83 L489.03,131.84 L489.03,131.84 L489.03,131.84 L489.03,131.85 L489.02,131.85 L489.02,131.86 L489.02,131.86 L489.01,131.86 L489.01,131.87 L489.00,131.87 L489.00,131.87 L488.99,131.87 L488.99,131.87 L488.98,131.87 L488.98,131.87 L488.97,131.87 L488.97,131.87 L488.96,131.87 L488.96,131.86 L488.96,131.86 L488.95,131.86 L488.95,131.86 L488.95,131.85 L488.94,131.85 L488.94,131.84 L488.94,131.84 L488.47,130.62 L488.47,130.62 L488.47,130.61 L488.47,130.61 L488.47,130.60 L488.47,130.60 L488.47,130.59 L488.47,130.59 L488.47,130.58 L488.47,130.58 L488.48,130.58 L488.48,130.57 L488.48,130.57 L488.49,130.57 L488.82,130.30 L488.82,130.29 L488.82,130.29 L488.19,129.87 L488.19,129.87 L488.18,129.87 L488.18,129.86 L488.18,129.86 L488.17,129.85 L488.17,129.85 L488.00,129.40 L488.00,129.40 L488.00,129.40 L485.04,127.77 L485.04,127.77 L483.54,126.77 L483.54,126.77 L483.53,126.77 L483.53,126.76 L483.53,126.76 L483.52,126.76 L480.63,121.93 L480.63,121.92 L480.62,121.92 L480.62,121.91 L480.62,121.91 L480.62,121.91 L480.62,121.90 L480.62,121.90 L480.62,121.89 L481.00,120.00 L481.00,120.00 L481.00,120.00 L479.08,119.33 L479.08,119.33 L479.07,119.32 L479.07,119.32 L479.06,119.32 L479.06,119.32 L479.06,119.31 L479.06,119.31 L478.24,117.94 L478.24,117.94 L478.23,117.94 L472.94,119.71 L472.94,119.71 L472.94,119.71 L474.56,124.58 L474.57,124.58 L474.57,124.58 L474.57,124.59 L474.57,124.59 L474.57,124.60 L474.57,124.60 L474.56,124.61 L474.27,125.33 L474.27,125.33 L474.27,125.34 L474.26,125.34 L474.26,125.35 L474.26,125.35 L474.25,125.35 L474.25,125.36 L474.24,125.36 L474.24,125.36 L474.23,125.36 L474.23,125.36 L464.00,126.00 L464.00,126.00 L452.00,128.00 L452.00,128.00 L452.00,128.00 L446.01,130.60 L446.00,130.60 L445.99,130.60 L438.00,132.00 L438.00,132.00 L438.00,132.00 L435.08,133.95 L435.07,133.95 L435.07,133.95 L435.06,133.95 L435.06,133.96 L435.05,133.96 L435.05,133.96 L435.05,133.96 L435.04,133.96 L435.04,133.95 L435.03,133.95 L435.03,133.95 L435.02,133.95 L435.02,133.95 L435.01,133.94 L435.01,133.94 L435.01,133.93 L435.01,133.93 L435.00,133.93 L435.00,133.92 L435.00,133.92 L435.00,133.91 L435.00,133.91 L435.00,130.30 L435.00,130.29 L435.00,130.29 L432.65,129.12 L432.65,129.12 L432.65,129.12 L424.41,126.53 L424.41,126.53 L417.35,125.12 L417.35,125.12 L417.35,125.12 L410.30,125.82ZM431.58,136.09 L431.58,136.10 L431.57,136.10 L431.57,136.10 L431.56,136.10 L430.68,136.31 L430.67,136.31 L427.95,136.76 L427.95,136.76 L427.94,136.76 L427.94,136.76 L427.93,136.76 L427.93,136.76 L427.11,136.49 L427.10,136.49 L427.10,136.48 L427.10,136.48 L427.09,136.48 L427.09,136.47 L427.08,136.47 L427.08,136.47 L427.08,136.46 L427.08,136.46 L427.08,136.45 L427.08,136.45 L427.07,136.44 L427.07,136.44 L427.07,136.43 L427.08,136.43 L427.08,136.42 L427.08,136.42 L427.08,136.41 L427.08,136.41 L427.09,136.41 L427.09,136.40 L430.63,133.17 L430.64,133.16 L430.64,133.16 L430.64,133.16 L430.65,133.16 L430.65,133.15 L430.66,133.15 L430.66,133.15 L430.67,133.15 L430.67,133.15 L430.68,133.15 L430.68,133.16 L433.74,134.38 L433.75,134.38 L433.75,134.38 L433.75,134.39 L433.76,134.39 L433.76,134.39 L433.76,134.40 L433.77,134.40 L433.77,134.40 L433.77,134.41 L433.77,134.41 L433.77,134.42 L433.77,134.42 L433.77,134.43 L433.77,134.43 L433.77,134.44 L433.77,134.44 L433.77,134.45 L433.77,134.45 L433.76,134.45 L433.76,134.46 L433.76,134.46 L433.75,134.47Z" fill="#238443"/>
<path d="M426.76,103.24 L435.00,102.29 L435.00,104.18 L429.12,104.41Z" fill="#238443"/>
<path d="M352.06,152.29 L356.76,150.88 L358.53,154.65 L357.59,158.18 L361.47,162.65 L365.82,166.41 L364.41,169.12 L358.53,170.29 L352.41,171.47 L355.59,168.53 L354.06,165.59 L352.65,161.47 L353.82,157.35Z" fill="#78c679"/>
<path d="M343.82,167.12 L346.76,160.53 L351.47,159.35 L352.65,162.88 L350.29,167.12Z" fill="#78c679"/>
<path d="M371.47,167.94 L373.24,164.41 L376.18,163.82 L376.41,167.94 L374.41,169.71Z" fill="#41ab5d"/>
<path d="M369.12,169.71 L371.47,167.94 L374.41,169.71 L375.59,172.29 L372.65,173.24Z" fill="#78c679"/>
<path d="M353.82,176.18 L360.88,175.00 L363.82,171.47 L369.12,169.71 L372.65,173.24 L375.59,172.29 L377.94,174.41 L378.76,178.18 L375.59,180.29 L376.41,186.18 L373.82,189.94 L369.12,190.41 L364.41,189.47 L360.29,188.53 L359.94,183.82 L357.94,179.12Z" fill="#41ab5d"/>
<path d="M375.59,164.41 L380.88,161.47 L386.76,160.88 L390.88,162.88 L391.71,169.71 L388.53,171.82 L389.71,176.53 L382.06,178.18 L378.76,178.18 L377.94,174.41 L376.41,167.94Z" fill="#238443"/>
<path d="M378.53,154.65 L382.65,153.24 L383.82,158.53 L380.65,160.53 L378.76,158.18Z" fill="#41ab5d"/>
<path d="M384.18,157.35 L386.76,157.71 L386.53,159.71 L384.41,159.35Z" fill="#41ab5d"/>
<path d="M390.88,162.88 L398.53,160.29 L406.18,160.29 L408.53,163.82 L410.53,169.94 L407.00,173.47 L399.71,173.47 L391.71,169.71Z" fill="#41ab5d"/>
<path d="M388.53,171.82 L391.71,169.71 L399.71,173.47 L396.41,175.82 L389.71,175.35Z" fill="#addd8e"/>
<path d="M375.59,180.29 L378.76,178.18 L384.41,178.88 L384.18,181.71 L378.53,182.65Z" fill="#addd8e"/>
<path d="M382.06,178.18 L389.71,176.53 L389.71,175.35 L396.41,175.82 L397.12,179.71 L390.29,180.29 L384.41,180.88 L384.41,178.88Z" fill="#78c679"/>
<path d="M396.41,175.82 L399.71,173.47 L407.00,173.47 L407.35,176.76 L400.88,177.94 L397.12,177.71Z" fill="#d9f0a3"/>
<path d="M397.12,177.71 L400.88,177.94 L407.35,176.76 L408.53,180.29 L404.41,182.41 L398.53,182.65 L396.18,180.29Z" fill="#78c679"/>
<path d="M407.35,176.76 L416.18,176.76 L419.71,180.29 L422.65,185.00 L419.71,187.35 L412.65,187.94 L408.53,185.59 L405.59,182.65 L408.53,180.29Z" fill="#78c679"/>
<path d="M407.00,173.47 L410.53,169.94 L410.29,167.35 L417.35,166.18 L424.41,166.76 L429.12,167.35 L435.00,170.88 L435.00,185.00 L430.29,185.59 L424.41,182.06 L423.82,181.47 L421.47,176.76 L417.35,175.82 L416.18,176.76 L407.35,176.76Z" fill="#78c679"/>
<path d="M417.35,175.82 L421.47,176.76 L423.82,181.47 L421.82,183.24 L419.71,180.29Z" fill="#f7fcb9"/>
<path d="M409.12,163.82 L409.12,163.82 L410.29,167.35 L410.29,167.35 L410.30,167.35 L417.35,166.18 L417.35,166.18 L417.36,166.18 L417.36,166.18 L424.41,166.76 L424.41,166.76 L424.41,166.76 L425.59,162.65 L425.59,162.65 L425.59,162.65 L419.71,156.18 L419.71,156.18 L419.70,156.18 L410.30,156.76 L410.29,156.76 L410.29,156.77 L409.12,163.82Z" fill="#78c679"/>
<path d="M403.82,149.12 L412.65,148.53 L415.00,152.06 L404.41,152.65Z" fill="#d9f0a3"/>
<path d="M403.24,152.65 L415.00,152.06 L416.18,156.18 L405.59,156.53Z" fill="#d9f0a3"/>
<path d="M403.47,156.53 L416.18,156.53 L415.00,160.88 L405.59,160.88 L403.24,159.12Z" fill="#d9f0a3"/>
<path d="M402.65,159.12 L405.59,158.88 L406.53,160.76 L403.24,161.00Z" fill="#238443"/>
<path d="M376.18,182.88 L384.18,181.71 L390.29,180.29 L390.88,182.65 L389.35,185.24 L393.82,190.88 L399.94,195.59 L402.06,198.18 L398.53,200.29 L397.35,203.82 L395.00,200.29 L390.29,195.59 L384.41,189.71 L380.88,185.59Z" fill="#41ab5d"/>
<path d="M389.71,202.88 L396.18,202.41 L395.59,205.59 L391.47,205.24Z" fill="#41ab5d"/>
<path d="M380.29,195.82 L383.47,195.35 L383.82,200.29 L380.88,200.53Z" fill="#41ab5d"/>
<path d="M381.35,190.29 L383.24,189.94 L383.24,193.24 L381.59,193.47Z" fill="#41ab5d"/>
<path d="M390.29,180.29 L396.18,180.29 L394.41,182.41 L390.88,182.65Z" fill="#addd8e"/>
<path d="M390.88,182.65 L394.41,182.41 L398.53,182.65 L402.65,185.00 L399.71,186.18 L396.18,185.59 L400.29,191.47 L396.18,189.12 L392.65,185.59Z" fill="#f7fcb9"/>
<path d="M396.18,185.59 L399.71,186.18 L403.24,186.41 L403.82,190.88 L400.88,192.06 L399.12,189.12Z" fill="#ffffe5"/>
<path d="M402.65,185.00 L405.59,182.65 L408.53,185.59 L412.06,188.53 L411.47,192.65 L407.35,193.24 L404.41,190.29 L403.24,186.41Z" fill="#addd8e"/>
<path d="M403.24,191.47 L407.35,193.24 L411.47,192.65 L412.65,195.59 L408.53,197.35 L407.94,200.29 L406.18,199.12 L405.00,194.41Z" fill="#f7fcb9"/>
<path d="M408.53,185.59 L412.65,187.94 L419.71,187.35 L422.06,189.12 L419.71,193.24 L416.18,194.41 L412.06,194.41 L411.47,192.65 L412.06,188.53Z" fill="#d9f0a3"/>
<path d="M406.18,199.12 L408.53,197.35 L412.65,195.59 L416.18,194.41 L417.35,196.76 L412.65,199.12 L415.00,203.82 L416.18,207.35 L411.47,206.76 L407.94,202.65Z" fill="#d9f0a3"/>
<path d="M412.65,208.53 L417.35,209.12 L416.18,210.88 L413.24,210.29Z" fill="#d9f0a3"/>
<path d="M418.53,193.24 L423.24,192.06 L435.00,190.88 L435.00,207.94 L424.41,207.35 L419.71,203.82 L418.53,199.12Z" fill="url(#hatch)" stroke="#c4c4c4"/>
<path d="M344.41,189.12 L352.65,187.94 L359.71,189.24 L369.12,191.59 L366.18,194.41 L363.24,197.00 L361.47,201.47 L357.35,205.00 L352.65,207.35 L348.18,206.18 L347.24,200.29 L348.41,193.24 L344.65,192.29Z" fill="#238443"/>
<path d="M343.82,192.65 L348.41,193.00 L347.24,200.29 L347.94,205.59 L344.41,205.00 L342.76,199.12Z" fill="#78c679"/>
<path d="M447.00,121.00 L452.00,114.00 L467.00,110.00 L464.40,112.20 L455.60,115.40 L452.00,122.00Z" fill="#238443"/>
<path d="M493.00,103.00 L504.00,104.00 L514.00,107.00 L508.00,108.00 L496.00,105.00Z" fill="#238443"/>
<path d="M426.00,103.00 L435.00,103.00 L434.00,104.20 L427.00,104.20Z" fill="#238443"/>
<path d="M521.70,197.11 L521.70,197.11 L522.27,201.36 L522.27,201.36 L522.27,201.36 L523.44,202.84 L523.44,202.84 L523.44,202.85 L523.44,202.85 L524.22,204.93 L524.23,204.94 L524.23,204.94 L524.23,204.95 L524.23,204.95 L524.23,204.96 L524.23,204.96 L524.23,204.97 L524.22,204.97 L524.22,204.97 L524.22,204.98 L524.22,204.98 L524.21,204.99 L524.21,204.99 L524.21,204.99 L524.20,204.99 L524.20,205.00 L524.19,205.00 L524.19,205.00 L524.18,205.00 L524.18,205.00 L524.00,205.00 L524.00,205.00 L524.00,205.00 L524.31,205.20 L524.32,205.20 L524.32,205.20 L524.32,205.20 L524.33,205.21 L524.33,205.21 L524.33,205.22 L524.33,205.22 L528.00,215.00 L528.00,215.00 L528.00,215.00 L534.83,215.00 L534.83,215.00 L534.84,215.00 L534.84,215.00 L534.85,215.00 L534.85,215.01 L534.86,215.01 L534.86,215.01 L534.86,215.01 L534.87,215.02 L534.87,215.02 L534.87,215.03 L536.00,217.00 L536.00,217.00 L536.00,217.00 L542.00,224.00 L542.00,224.00 L542.00,224.00 L549.98,223.00 L549.99,223.00 L549.99,223.00 L550.00,223.00 L550.00,223.00 L550.01,223.00 L550.01,223.01 L560.00,228.00 L560.00,228.00 L560.00,228.00 L561.73,227.87 L561.73,227.87 L561.74,227.87 L561.74,227.87 L561.75,227.87 L561.75,227.88 L562.00,228.00 L562.00,228.00 L562.00,228.00 L563.20,227.76 L563.20,227.76 L568.00,227.40 L568.00,227.40 L573.64,226.41 L573.64,226.41 L573.65,226.41 L573.65,226.41 L573.66,226.41 L579.97,227.99 L579.98,227.99 L579.98,228.00 L579.99,228.00 L579.99,228.00 L579.99,228.00 L580.00,228.01 L580.00,228.01 L580.00,228.01 L580.00,228.02 L580.01,228.02 L580.01,228.03 L582.00,235.00 L582.00,235.00 L582.00,235.00 L590.00,245.00 L590.00,245.00 L590.00,245.00 L595.99,243.00 L595.99,243.00 L596.00,243.00 L596.00,243.00 L596.00,243.00 L596.01,243.00 L596.01,243.00 L604.00,245.00 L604.00,245.00 L610.00,246.00 L610.00,246.00 L610.00,246.00 L618.00,243.00 L618.00,243.00 L626.00,239.00 L626.00,239.00 L626.00,239.00 L631.00,233.00 L631.00,233.00 L631.00,233.00 L633.60,226.00 L633.60,226.00 L633.60,226.00 L630.00,219.00 L630.00,219.00 L626.00,213.01 L626.00,213.00 L626.00,213.00 L626.00,212.99 L624.00,207.00 L624.00,207.00 L624.00,207.00 L620.00,205.00 L620.00,205.00 L620.00,205.00 L616.46,202.17 L616.46,202.16 L616.45,202.16 L616.45,202.16 L616.45,202.15 L616.45,202.15 L616.44,202.14 L616.44,202.14 L616.44,202.14 L616.44,202.13 L616.44,202.13 L616.44,202.12 L616.44,202.12 L616.44,202.11 L616.45,202.11 L617.98,199.03 L617.99,199.03 L617.99,199.03 L617.99,199.02 L618.00,199.02 L618.00,199.02 L618.00,199.01 L618.01,199.01 L618.01,199.01 L618.02,199.01 L618.02,199.01 L618.03,199.01 L618.03,199.01 L618.04,199.01 L628.00,201.00 L628.00,201.00 L628.00,201.00 L632.00,195.01 L632.00,195.00 L632.00,195.00 L632.01,195.00 L634.80,192.60 L634.80,192.60 L634.81,192.60 L640.00,190.00 L640.00,190.00 L640.00,190.00 L638.98,188.72 L638.97,188.72 L638.97,188.71 L638.97,188.71 L638.97,188.70 L638.97,188.70 L638.97,188.70 L638.00,180.00 L638.00,180.00 L638.00,180.00 L634.00,176.60 L634.00,176.60 L634.00,176.60 L625.01,176.60 L625.01,176.60 L625.00,176.60 L625.00,176.60 L624.99,176.60 L615.01,172.00 L615.00,172.00 L615.00,172.00 L614.99,172.00 L606.00,164.00 L606.00,164.00 L606.00,164.00 L599.00,164.00 L599.00,164.00 L599.00,164.00 L580.00,174.00 L580.00,174.00 L580.00,174.00 L580.00,184.95 L580.00,184.95 L580.00,184.96 L580.00,184.96 L580.00,184.97 L579.99,184.97 L579.99,184.98 L579.99,184.98 L579.99,184.99 L579.98,184.99 L579.98,184.99 L579.97,184.99 L579.97,185.00 L579.96,185.00 L579.96,185.00 L579.95,185.00 L579.95,185.00 L560.01,185.00 L560.01,185.00 L560.00,185.00 L560.00,185.00 L559.99,185.00 L559.99,184.99 L548.00,179.00 L548.00,179.00 L540.00,174.00 L540.00,174.00 L540.00,174.00 L534.00,174.00 L534.00,174.00 L534.00,174.00 L537.93,175.97 L537.94,175.97 L537.94,175.97 L537.94,175.97 L537.95,175.98 L537.95,175.98 L537.95,175.99 L537.96,175.99 L537.96,176.00 L537.96,176.00 L537.96,176.00 L537.96,176.01 L537.96,176.01 L537.96,176.02 L537.96,176.02 L537.96,176.03 L537.95,176.03 L537.95,176.04 L537.95,176.04 L537.94,176.05 L537.94,176.05 L532.00,181.00 L532.00,181.00 L532.00,181.00 L530.00,189.00 L530.00,189.00 L530.00,189.00 L530.17,190.03 L530.17,190.03 L530.17,190.04 L530.17,190.04 L530.17,190.04 L530.17,190.05 L530.17,190.05 L530.17,190.06 L530.16,190.06 L530.16,190.07 L530.16,190.07 L527.65,192.58 L527.65,192.58 L521.70,197.11Z" fill="#004529"/>
<path d="M540.00,174.00 L540.00,174.00 L548.00,179.00 L548.00,179.00 L559.97,184.99 L559.98,184.99 L559.98,184.99 L559.98,184.99 L559.99,185.00 L559.99,185.00 L559.99,185.01 L560.00,185.01 L560.00,185.02 L560.00,185.02 L560.00,185.03 L560.00,185.03 L560.00,190.00 L560.00,190.00 L560.00,190.00 L579.96,192.49 L579.96,192.50 L579.97,192.50 L579.97,192.50 L579.97,192.50 L579.98,192.50 L579.98,192.51 L579.99,192.51 L579.99,192.51 L579.99,192.52 L579.99,192.52 L580.00,192.53 L580.00,192.53 L580.00,192.53 L580.00,192.54 L580.00,192.54 L580.00,193.00 L580.00,193.00 L580.00,193.00 L588.00,193.00 L588.00,193.00 L588.00,193.00 L588.26,192.84 L588.27,192.83 L588.27,192.83 L588.27,192.83 L588.28,192.83 L588.28,192.83 L588.29,192.83 L588.29,192.83 L590.00,193.00 L590.00,193.00 L590.00,193.00 L590.00,191.78 L590.00,191.77 L590.00,191.77 L590.00,191.76 L590.00,191.76 L590.01,191.75 L590.01,191.75 L590.01,191.75 L590.02,191.74 L590.02,191.74 L590.02,191.74 L591.69,190.70 L591.69,190.69 L591.69,190.69 L591.70,190.69 L594.00,190.00 L594.00,190.00 L594.00,190.00 L594.39,189.02 L594.40,189.01 L594.40,189.01 L594.40,189.00 L594.41,189.00 L594.41,188.99 L594.41,188.99 L596.00,188.00 L596.00,188.00 L602.00,183.00 L602.00,183.00 L602.00,183.00 L607.00,180.00 L607.00,180.00 L607.00,180.00 L600.02,179.00 L600.01,179.00 L600.01,179.00 L600.00,179.00 L600.00,179.00 L600.00,178.99 L599.99,178.99 L599.99,178.99 L596.00,175.00 L596.00,175.00 L596.00,175.00 L588.00,172.00 L588.00,172.00 L588.00,172.00 L582.87,173.28 L582.86,173.28 L582.86,173.28 L582.85,173.29 L582.85,173.28 L580.00,173.00 L580.00,173.00 L568.01,173.00 L568.01,173.00 L568.00,173.00 L568.00,173.00 L567.99,173.00 L558.00,168.60 L558.00,168.60 L558.00,168.60 L548.00,172.00 L548.00,172.00 L540.00,174.00Z" fill="#ffffe5"/>
<path d="M640.00,162.00 L646.00,167.00 L654.00,175.00 L657.00,181.00 L654.00,179.00 L648.00,172.00Z" fill="#238443"/>
<path d="M656.00,120.60 L658.40,121.40 L657.60,122.60 L655.60,121.80Z" fill="#238443"/>
<path d="M634.00,236.60 L636.40,236.00 L637.00,243.00 L634.40,244.00Z" fill="#78c679"/>
<path d="M610.00,250.00 L614.00,249.00 L614.40,253.00 L611.00,254.00Z" fill="#004529"/>
<path d="M596.00,243.00 L604.00,245.00 L608.00,251.00 L607.00,259.00 L613.00,265.00 L613.60,271.00 L608.00,275.00 L604.00,279.00 L603.00,275.00 L608.00,269.00 L606.00,263.00 L600.00,255.00 L596.00,249.00Z" fill="#238443"/>
<path d="M590.00,245.00 L596.00,243.00 L596.00,249.00 L600.00,255.00 L606.00,263.00 L603.00,265.00 L598.00,261.00 L592.00,255.00Z" fill="#addd8e"/>
<path d="M584.00,249.00 L590.00,245.00 L592.00,255.00 L598.00,261.00 L600.00,267.00 L596.00,269.00 L592.00,265.00 L590.00,269.00 L591.00,279.00 L595.00,287.00 L593.00,289.00 L589.00,281.00 L587.00,271.00 L584.00,261.00Z" fill="#78c679"/>
<path d="M598.00,265.00 L606.00,264.00 L609.00,269.00 L605.00,274.00 L599.00,273.00Z" fill="#addd8e"/>
<path d="M572.00,226.00 L580.00,228.00 L582.00,235.00 L590.00,245.00 L584.00,249.00 L584.00,261.00 L580.00,261.00 L576.00,251.00 L570.00,245.00 L568.00,237.00Z" fill="#78c679"/>
<path d="M593.00,289.00 L596.00,287.00 L600.00,293.00 L603.00,299.00 L600.00,300.00 L596.00,295.00Z" fill="#78c679"/>
<path d="M637.00,254.00 L641.00,254.00 L642.00,262.00 L646.00,265.00 L648.00,271.00 L644.00,269.00 L640.00,265.00 L638.00,261.00Z" fill="#41ab5d"/>
<path d="M644.00,281.00 L651.00,277.00 L654.00,283.00 L652.00,287.00 L646.00,284.00Z" fill="#41ab5d"/>
<path d="M644.00,270.00 L650.00,272.00 L651.00,276.00 L645.00,275.00Z" fill="#41ab5d"/>
<path d="M632.00,279.00 L638.00,273.00 L637.00,275.40 L633.00,281.00Z" fill="#41ab5d"/>
<path d="M614.00,300.00 L620.00,295.00 L628.00,287.00 L634.00,284.00 L638.00,289.00 L632.00,297.00 L630.00,305.00 L614.00,305.00Z" fill="#addd8e"/>
<path d="M524.00,211.00 L532.00,210.00 L536.00,217.00 L542.00,224.00 L550.00,228.00 L560.00,230.00 L563.00,234.00 L562.00,245.00 L554.00,251.00 L548.00,261.00 L545.00,271.00 L542.00,281.00 L536.00,271.00 L532.00,259.00 L528.00,247.00 L523.00,245.00 L518.00,240.00 L522.00,237.00 L518.00,231.00 L524.00,225.00Z" fill="#78c679"/>
<path d="M542.00,224.00 L550.00,223.00 L560.00,228.00 L560.00,233.00 L550.00,230.00Z" fill="#d9f0a3"/>
<path d="M561.00,229.00 L568.00,229.00 L568.00,232.00 L561.60,232.00Z" fill="#ffffe5"/>
<path d="M561.00,235.00 L570.00,235.00 L570.00,245.00 L564.00,245.00 L561.60,239.00Z" fill="url(#hatch)" stroke="#c4c4c4"/>
<path d="M547.00,276.00 L550.00,277.00 L551.00,285.00 L548.00,286.00 L546.00,281.00Z" fill="#ffffe5"/>
<path d="M524.00,211.00 L532.00,210.00 L536.00,217.00 L542.00,224.00 L550.00,228.00 L560.00,230.00 L563.00,234.00 L562.00,245.00 L554.00,251.00 L548.00,261.00 L545.00,271.00 L542.00,281.00 L536.00,271.00 L532.00,259.00 L528.00,247.00 L523.00,245.00 L518.00,240.00 L522.00,237.00 L518.00,231.00 L524.00,225.00Z" fill="#78c679"/>
<path d="M542.00,224.00 L550.00,223.00 L560.00,228.00 L560.00,233.00 L550.00,230.00Z" fill="#d9f0a3"/>
<path d="M561.00,229.00 L568.00,229.00 L568.00,232.00 L561.60,232.00Z" fill="#ffffe5"/>
<path d="M457.54,172.75 L462.49,168.78 L472.41,170.20 L481.90,169.07 L483.74,160.00 L496.49,158.87 L512.07,163.97 L524.11,169.07 L534.02,174.02 L538.27,175.86 L533.31,182.66 L530.48,188.33 L527.65,191.44 L519.15,190.03 L510.65,193.99 L506.40,195.69 L499.32,192.86 L489.41,188.33 L480.91,184.08 L478.07,188.33 L478.78,193.99 L473.82,192.86 L468.87,189.04 L467.03,183.37 L469.58,180.96 L462.49,181.25 L459.38,179.83Z" fill="#d9f0a3"/>
<path d="M473.82,192.86 L478.78,193.99 L478.07,188.33 L480.91,184.08 L489.41,188.33 L499.32,192.86 L506.40,195.69 L510.65,193.99 L519.15,190.03 L521.98,193.99 L517.73,196.83 L510.65,201.08 L504.99,205.33 L496.49,209.58 L485.16,206.74 L478.07,205.33 L474.53,199.66Z" fill="#ffffe5"/>
<path d="M510.65,193.99 L519.15,190.03 L527.65,191.44 L530.48,193.99 L524.82,196.83 L519.15,202.49 L510.65,205.33 L504.99,205.33 L510.65,201.08 L517.73,196.83 L521.98,193.99Z" fill="#ffffe5"/>
<path d="M447.62,189.04 L455.41,190.45 L461.08,193.29 L456.83,194.70 L450.45,194.70 L448.33,192.58Z" fill="#d9f0a3"/>
<path d="M455.41,195.41 L461.08,193.71 L465.33,196.83 L467.45,201.08 L461.08,198.95 L456.12,198.24Z" fill="#f7fcb9"/>
<path d="M420.00,193.29 L428.50,192.29 L438.41,193.71 L448.33,193.29 L450.45,194.70 L456.83,195.13 L461.08,198.95 L467.45,201.36 L473.82,204.19 L478.07,205.61 L485.16,207.03 L496.49,209.86 L504.99,205.61 L510.65,205.33 L519.15,202.78 L524.82,208.44 L530.48,209.86 L527.65,212.69 L524.82,215.52 L521.98,219.77 L519.15,226.57 L520.57,233.65 L521.27,237.62 L516.46,238.75 L510.65,236.49 L501.16,235.35 L490.54,234.08 L487.00,233.51 L481.19,231.81 L475.24,227.00 L470.00,222.46 L468.16,223.74 L472.97,229.41 L477.65,234.08 L480.06,240.03 L483.46,241.16 L488.13,237.62 L490.54,235.35 L497.62,243.57 L495.35,249.38 L487.00,256.46 L481.19,255.33 L461.22,265.95 L458.81,255.33 L451.87,238.75 L444.65,227.00 L441.25,222.32 L441.95,210.99 L442.66,206.74 L434.16,207.03 L420.00,207.03Z" fill="url(#hatch)" stroke="#c4c4c4"/>
<path d="M432.75,209.58 L437.71,208.87 L437.00,211.70 L433.46,211.27Z" fill="#addd8e"/>
<path d="M439.12,210.99 L441.95,210.71 L441.53,219.49 L440.54,225.44 L438.70,222.32Z" fill="#d9f0a3"/>
<path d="M420.00,219.49 L437.00,219.49 L438.41,222.32 L440.11,226.57 L444.79,244.99 L420.00,244.99Z" fill="#ffffe5"/>
<path d="M655.88,184.13 L658.51,186.00 L664.51,186.38 L666.76,189.38 L664.51,190.50 L663.76,192.38 L661.51,191.25 L659.63,193.88 L657.01,193.13 L656.26,189.75Z" fill="#41ab5d"/>
<path d="M659.63,195.00 L662.26,194.25 L665.26,198.75 L666.01,202.51 L667.51,207.76 L667.13,210.76 L663.76,211.51 L660.01,214.51 L658.51,213.01 L656.26,211.51 L652.51,213.01 L650.63,215.26 L648.00,216.01 L646.50,215.26 L650.26,211.51 L654.01,209.26 L657.38,208.88 L657.76,205.51 L661.13,203.26 L661.51,198.75Z" fill="#41ab5d"/>
<path d="M647.25,216.01 L650.26,215.26 L652.51,218.26 L651.76,220.89 L649.88,220.89 L648.38,218.26Z" fill="#41ab5d"/>
<path d="M652.88,213.76 L657.01,213.01 L657.38,214.88 L654.01,215.26Z" fill="#41ab5d"/>
<path d="M630.00,193.50 L634.50,190.50 L637.50,195.00 L635.25,199.50 L636.75,202.51 L632.25,204.01 L630.00,202.51Z" fill="#addd8e"/>
<path d="M635.25,202.51 L637.13,201.76 L641.25,205.51 L643.88,210.01 L642.00,213.01 L639.00,212.26 L636.75,207.01Z" fill="#41ab5d"/>
<path d="M429.41,169.41 L436.47,170.59 L442.35,172.94 L443.53,176.47 L441.18,178.82 L436.47,180.59 L435.29,182.94 L438.82,182.35 L440.00,184.12 L436.47,185.29 L431.76,183.53 L428.24,182.94 L430.59,174.12Z" fill="#78c679"/>
<path d="M425.88,166.82 L429.41,169.41 L430.59,174.12 L428.24,182.94 L424.71,182.35 L422.35,177.65 L424.71,171.76Z" fill="#78c679"/>
<path d="M417.88,175.53 L420.59,176.24 L423.76,181.76 L421.76,182.94 L419.76,178.82Z" fill="#f7fcb9"/>
<path d="M494.12,102.76 L506.47,103.82 L517.06,107.35 L508.24,108.41 L495.88,105.59Z" fill="#238443"/>
<path d="M573.53,111.59 L585.88,110.88 L596.47,113.35 L585.88,114.76Z" fill="#238443"/>
<path d="M465.88,110.18 L455.29,112.65 L447.53,120.41 L451.77,123.24 L457.06,116.88 L467.65,112.65Z" fill="#238443"/>
<path d="M335.00,230.00 L341.00,224.00 L347.00,216.00 L355.00,210.40 L360.00,210.00 L359.00,218.00 L345.00,226.00 L344.00,230.00Z" fill="#ffffe5"/>
<path d="M335.00,230.00 L344.00,230.00 L350.00,236.00 L350.00,261.00 L337.00,266.00 L327.00,261.00 L325.00,247.00 L329.00,239.00Z" fill="url(#hatch)" stroke="#c4c4c4"/>
<path d="M360.00,210.00 L367.00,207.00 L381.00,205.00 L384.00,214.00 L387.00,218.00 L385.00,230.00 L389.00,241.00 L381.00,246.00 L373.00,252.00 L361.00,245.00 L350.00,236.00 L344.00,230.00 L345.00,226.00 L359.00,218.00Z" fill="#ffffe5"/>
<path d="M381.00,205.00 L386.00,205.00 L388.00,212.00 L385.00,218.00 L384.00,214.00Z" fill="#ffffe5"/>
<path d="M387.00,218.00 L391.00,216.00 L399.00,218.00 L409.00,220.00 L419.00,220.00 L419.00,244.40 L417.00,250.00 L413.00,248.00 L399.00,242.00 L389.00,241.00 L385.00,230.00Z" fill="url(#hatch)" stroke="#c4c4c4"/>
<path d="M419.00,220.00 L427.00,220.00 L439.00,221.00 L441.00,226.00 L438.00,225.00 L445.00,244.40 L419.00,244.40Z" fill="#ffffe5"/>
<path d="M350.00,236.00 L373.00,252.00 L372.00,262.00 L365.00,264.00 L363.00,269.00 L355.00,270.00 L350.00,274.00 L341.00,270.00 L337.00,266.00 L350.00,261.00Z" fill="#ffffe5"/>
<path d="M373.00,252.00 L381.00,246.00 L389.00,241.00 L398.00,242.00 L397.00,252.00 L395.00,268.00 L383.00,267.00 L371.00,271.00 L368.00,269.00 L365.00,264.40 L372.00,262.00Z" fill="#ffffe5"/>
<path d="M398.00,242.00 L413.00,248.00 L417.00,250.00 L415.00,264.00 L413.00,274.00 L406.00,280.00 L399.00,280.00 L396.00,268.00 L397.00,252.00Z" fill="#ffffe5"/>
<path d="M417.00,250.00 L419.00,244.40 L445.00,244.40 L453.00,262.00 L449.00,268.00 L443.00,270.00 L440.00,280.00 L443.00,291.00 L435.00,292.00 L427.00,288.00 L421.00,284.00 L415.00,274.00 L413.00,274.00 L415.00,264.00Z" fill="url(#hatch)" stroke="#c4c4c4"/>
<path d="M443.00,270.00 L451.00,264.00 L459.00,268.00 L467.00,280.00 L473.00,281.00 L467.00,287.00 L455.00,289.00 L447.00,292.00 L443.00,291.00 L440.00,280.00Z" fill="#ffffe5"/>
<path d="M467.00,280.00 L479.00,271.00 L481.00,280.00 L475.00,290.00 L467.00,300.00 L458.00,304.00 L459.00,292.00 L467.00,287.00 L473.00,281.00Z" fill="#ffffe5"/>
<path d="M322.60,265.00 L328.60,258.40 L334.00,261.00 L337.40,269.00 L336.60,272.40 L330.00,272.00 L325.00,272.40 L324.00,269.00Z" fill="#f7fcb9"/>
<path d="M327.40,270.40 L336.60,269.00 L341.00,270.00 L350.00,274.00 L351.00,275.00 L344.00,278.00 L339.00,280.00 L334.00,276.00 L330.00,274.00Z" fill="#ffffe5"/>
<path d="M334.00,276.00 L339.00,280.00 L344.00,278.00 L345.00,288.00 L340.00,287.00 L335.00,282.00Z" fill="#ffffe5"/>
<path d="M344.00,278.00 L351.00,275.00 L356.00,276.00 L357.00,289.00 L345.00,290.00 L345.00,288.00Z" fill="#f7fcb9"/>
<path d="M351.00,275.00 L354.00,268.00 L363.00,263.00 L368.00,269.00 L366.00,274.00 L358.00,274.40 L356.00,276.00Z" fill="#addd8e"/>
<path d="M356.00,276.00 L358.00,274.40 L364.00,274.00 L365.00,286.00 L357.00,289.00Z" fill="#d9f0a3"/>
<path d="M364.00,274.00 L366.00,274.00 L368.00,269.00 L372.00,271.00 L371.00,286.00 L365.00,286.00Z" fill="#f7fcb9"/>
<path d="M371.00,271.00 L383.00,267.00 L395.00,268.00 L397.00,270.00 L392.00,279.00 L387.00,282.00 L383.00,290.00 L377.00,291.00 L371.00,286.00Z" fill="#78c679"/>
<path d="M383.00,290.00 L387.00,282.00 L392.00,279.00 L397.00,270.00 L399.00,280.00 L400.00,288.00 L403.00,291.00 L401.00,296.00 L385.00,296.00Z" fill="#d9f0a3"/>
<path d="M399.00,280.00 L406.00,280.00 L413.00,274.00 L421.00,276.00 L425.00,278.00 L427.00,288.00 L417.00,292.00 L403.00,291.00 L400.00,288.00Z" fill="#f7fcb9"/>
<path d="M385.00,296.00 L400.00,296.00 L403.00,291.00 L404.00,302.00 L399.00,310.00 L395.00,316.00 L390.00,314.00 L386.00,306.00Z" fill="#ffffe5"/>
<path d="M403.00,291.00 L417.00,292.00 L427.00,288.00 L435.00,292.00 L433.00,304.00 L432.00,320.00 L401.00,320.00 L395.00,316.00 L399.00,310.00 L404.00,302.00Z" fill="#f7fcb9"/>
<path d="M432.00,292.00 L443.00,291.00 L443.40,307.00 L432.00,307.00Z" fill="#addd8e"/>
<path d="M443.00,291.00 L447.00,292.00 L455.00,289.00 L459.00,292.00 L458.00,304.00 L455.00,320.00 L443.00,320.00 L443.00,304.00Z" fill="#d9f0a3"/>
<path d="M383.76,297.34 L390.18,295.50 L404.86,293.67 L397.52,313.85 L392.02,316.61 L387.43,308.35Z" fill="#ffffe5"/>
<path d="M404.86,293.67 L431.47,290.00 L432.39,305.60 L431.47,317.52 L438.81,325.78 L428.72,324.86 L426.88,332.20 L416.79,332.20 L412.20,321.19 L403.03,323.03 L399.36,317.52 L392.02,317.52 L397.52,313.85Z" fill="#f7fcb9"/>
<path d="M392.02,317.52 L399.36,317.52 L403.03,323.03 L412.20,321.19 L416.79,332.20 L414.04,337.71 L414.04,347.80 L390.18,347.80 L391.65,339.54 L393.85,330.37Z" fill="#addd8e"/>
<path d="M414.04,337.71 L416.79,332.20 L426.88,332.20 L428.72,324.86 L439.36,326.70 L440.64,335.87 L439.72,338.62 L433.30,342.29 L423.21,348.72 L414.04,347.80Z" fill="#d9f0a3"/>
<path d="M431.47,306.51 L443.39,305.60 L453.49,315.69 L456.24,329.45 L447.06,332.20 L438.81,332.20 L431.47,317.52Z" fill="#d9f0a3"/>
<path d="M438.81,332.20 L447.06,332.20 L456.24,329.45 L456.24,341.38 L445.23,352.39 L442.48,363.39 L437.89,368.90 L434.22,361.56 L436.06,350.55 L433.30,342.29 L439.72,338.62 L442.48,345.05 L445.23,343.21Z" fill="#addd8e"/>
<path d="M439.36,326.70 L442.48,328.53 L445.23,343.21 L442.48,345.05 L440.64,335.87Z" fill="#78c679"/>
<path d="M423.21,348.72 L433.30,342.29 L436.97,345.05 L436.06,357.89 L430.55,359.72 L425.05,353.30Z" fill="#f7fcb9"/>
<path d="M390.18,347.80 L414.04,347.80 L409.45,348.72 L408.53,368.90 L405.78,376.24 L400.28,378.07 L395.69,363.39Z" fill="#ffffe5"/>
<path d="M409.45,348.72 L423.21,348.72 L425.05,353.30 L430.55,359.72 L419.54,367.06 L413.12,370.73 L408.53,368.90Z" fill="#ffffe5"/>
<path d="M400.28,378.07 L405.78,376.24 L408.53,368.90 L413.12,370.73 L419.54,367.06 L430.55,359.72 L434.22,361.56 L436.97,368.90 L432.39,379.91 L423.21,387.25 L415.87,390.92 L404.86,392.75 L402.11,387.25Z" fill="#78c679"/>
<path d="M474.59,334.04 L477.89,337.71 L475.50,350.55 L470.00,367.06 L463.58,368.90 L460.83,359.72 L463.58,345.05 L470.92,341.38Z" fill="#d9f0a3"/>
<path d="M422.84,379.54 L426.51,377.34 L428.72,379.91 L425.41,382.48Z" fill="#ffffe5"/>
<path d="M606.23,318.30 L616.58,320.11 L628.23,324.00 L625.64,325.29 L614.00,322.70 L607.53,321.41Z" fill="#addd8e"/>
<path d="M615.29,298.12 L626.94,290.35 L632.11,285.18 L637.29,290.35 L634.70,295.53 L632.11,311.06 L621.76,311.06 L616.58,305.88Z" fill="#addd8e"/>
<path d="M637.29,303.29 L647.64,299.41 L651.52,300.19 L642.46,304.59 L641.17,309.76 L646.35,316.23 L639.88,317.53 L637.81,311.06Z" fill="#addd8e"/>
<path d="M630.82,324.00 L655.40,323.48 L654.11,326.58 L632.11,327.88Z" fill="#addd8e"/>
<path d="M738.22,392.58 L742.10,393.87 L747.28,401.64 L735.63,409.40 L732.53,408.11 L739.51,399.05Z" fill="#d9f0a3"/>
<path d="M705.87,421.05 L718.81,414.58 L730.46,408.11 L731.75,411.99 L722.69,418.46 L708.46,423.63Z" fill="#d9f0a3"/>
<path d="M664.70,303.82 L671.76,302.94 L673.53,306.47 L669.12,309.12 L675.29,308.23 L680.59,306.47 L687.64,309.12 L687.64,325.88 L682.35,324.12 L679.70,321.47 L681.47,317.06 L676.17,312.65 L670.00,311.76 L667.35,308.23Z" fill="#addd8e"/>
<path d="M687.64,309.12 L694.70,311.76 L698.23,315.29 L702.64,319.70 L703.53,322.35 L708.82,329.41 L705.29,329.76 L700.00,325.88 L692.94,325.00 L687.64,325.88Z" fill="#d9f0a3"/>
<path d="M704.41,317.06 L710.58,314.41 L713.23,310.88 L711.47,308.23 L715.00,310.88 L715.88,313.53 L710.58,317.94 L706.17,318.82Z" fill="#d9f0a3"/>
<path d="M718.52,315.29 L721.17,317.94 L720.29,319.70 L718.17,317.06Z" fill="#d9f0a3"/>
<path d="M722.94,319.70 L731.76,324.12 L735.29,330.29 L729.99,327.64 L723.82,322.35Z" fill="#d9f0a3"/>
<path d="M743.23,340.88 L744.99,341.76 L745.52,345.29 L743.76,344.41Z" fill="#d9f0a3"/>
<path d="M734.41,355.00 L736.17,355.00 L740.58,359.76 L738.82,360.82Z" fill="#ffffe5"/>
<path d="M766.17,347.94 L770.58,346.17 L774.11,344.41 L772.35,347.05 L768.82,349.70Z" fill="#ffffe5"/>
<path d="M656.76,297.65 L659.06,296.76 L659.76,302.94 L657.65,303.82Z" fill="#addd8e"/>
<path d="M653.23,310.00 L657.65,309.65 L664.70,311.41 L663.82,312.65 L657.65,311.76Z" fill="#addd8e"/>
<path d="M646.18,327.64 L652.35,324.12 L655.88,323.76 L650.59,327.29 L647.06,329.06Z" fill="#addd8e"/>
<path d="M671.41,316.17 L673.17,317.06 L672.82,319.70 L671.41,318.82Z" fill="#addd8e"/>
<path d="M3.00,245.00 L8.00,244.00 L11.00,250.00 L7.00,252.00Z" fill="#41ab5d"/>
<path d="M614.50,391.48 L616.87,370.11 L620.04,359.03 L627.16,355.86 L636.66,353.49 L642.99,345.58 L652.48,339.25 L658.81,340.83 L665.15,332.12 L676.23,333.71 L673.06,340.83 L682.56,347.95 L687.30,339.25 L689.68,330.54 L693.64,340.83 L695.22,350.32 L701.55,359.82 L705.51,367.74 L704.72,377.23 L699.97,385.15 L693.64,391.48 L687.30,397.81 L680.97,400.97 L674.64,403.35 L668.31,400.97 L663.56,397.02 L661.19,389.89 L657.23,385.94 L649.32,384.35 L639.82,385.94 L630.32,389.10 L620.83,392.27 L616.08,393.38Z" fill="#78c679"/>
<path d="M668.31,410.47 L676.23,408.89 L673.06,414.43 L667.99,415.53Z" fill="#78c679"/>
<path d="M582.35,288.00 L589.32,289.32 L596.47,296.09 L602.49,301.74 L606.26,309.27 L607.76,317.18 L604.00,317.93 L597.98,311.91 L592.33,304.38 L586.68,296.47Z" fill="#addd8e"/>
<path d="M589.32,277.65 L593.65,279.91 L596.85,286.12 L600.61,290.82 L603.62,296.85 L601.18,298.73 L596.47,294.96 L593.65,289.32 L590.82,283.67Z" fill="#78c679"/></g>
<!-- legend -->
<g id="legend">
<rect x="45.65" y="501.2" width="47.65" height="11.2" fill="url(#hatchL)" stroke="#b5b5b5" stroke-width="0.8"/>
<line x1="69.5" y1="498" x2="69.5" y2="501.2" stroke="#999" stroke-width="0.8"/>
<rect x="113.10" y="501.2" width="76.8" height="11.2" fill="#ffffe5"/>
<rect x="189.90" y="501.2" width="76.8" height="11.2" fill="#f7fcb9"/>
<rect x="266.70" y="501.2" width="76.8" height="11.2" fill="#d9f0a3"/>
<rect x="343.50" y="501.2" width="76.8" height="11.2" fill="#addd8e"/>
<rect x="420.30" y="501.2" width="76.8" height="11.2" fill="#78c679"/>
<rect x="497.10" y="501.2" width="76.8" height="11.2" fill="#41ab5d"/>
<rect x="573.90" y="501.2" width="76.8" height="11.2" fill="#238443"/>
<rect x="650.70" y="501.2" width="76.8" height="11.2" fill="#006837"/>
<path d="M727.5 501.2H798.9L804.2 506.8L798.9 512.4H727.5Z" fill="#004529"/>
<path d="M113.1 501.2H798.9M113.1 512.4H798.9M113.1 501.2V512.4" stroke="#9a9a9a" stroke-width="0.5" fill="none" opacity="0.8"/>
<line x1="113.10" y1="498" x2="113.10" y2="512.4" stroke="#8c8c8c" stroke-width="0.6"/>
<line x1="189.90" y1="498" x2="189.90" y2="512.4" stroke="#8c8c8c" stroke-width="0.6"/>
<line x1="266.70" y1="498" x2="266.70" y2="512.4" stroke="#8c8c8c" stroke-width="0.6"/>
<line x1="343.50" y1="498" x2="343.50" y2="512.4" stroke="#8c8c8c" stroke-width="0.6"/>
<line x1="420.30" y1="498" x2="420.30" y2="512.4" stroke="#8c8c8c" stroke-width="0.6"/>
<line x1="497.10" y1="498" x2="497.10" y2="512.4" stroke="#8c8c8c" stroke-width="0.6"/>
<line x1="573.90" y1="498" x2="573.90" y2="512.4" stroke="#8c8c8c" stroke-width="0.6"/>
<line x1="650.70" y1="498" x2="650.70" y2="512.4" stroke="#8c8c8c" stroke-width="0.6"/>
<line x1="727.50" y1="498" x2="727.50" y2="512.4" stroke="#8c8c8c" stroke-width="0.6"/>
</g>
</svg>
<div class="t leg" style="left:69.5px;top:482.7px">No data</div>
<div class="t leg" style="left:113.1px;top:482.7px">0 t</div>
<div class="t leg" style="left:189.9px;top:482.7px">10,000 t</div>
<div class="t leg" style="left:266.7px;top:482.7px">30,000 t</div>
<div class="t leg" style="left:343.5px;top:482.7px">100,000 t</div>
<div class="t leg" style="left:420.3px;top:482.7px">300,000 t</div>
<div class="t leg" style="left:497.1px;top:482.7px">1 million t</div>
<div class="t leg" style="left:573.9px;top:482.7px">3 million t</div>
<div class="t leg" style="left:650.7px;top:482.7px">10 million t</div>
<div class="t leg" style="left:727.5px;top:482.7px">30 million t</div>

<div class="t foot" style="left:16px;top:532.6px"><b>Data source:</b> Food and Agriculture Organization of the United Nations (2025)</div>
<div class="t foot" style="right:19px;top:532.6px">OurWorldinData.org/meat-production | CC BY</div>
<div class="t foot" style="left:16px;top:553.6px;letter-spacing:-0.05px"><b>Note:</b> This refers to total meat production, from both commercial and farm slaughter. Data are given in terms of dressed carcass weight,</div>
<div class="t foot" style="left:16px;top:568.6px;letter-spacing:-0.05px">excluding offal and slaughter fats.</div>
</body></html>
